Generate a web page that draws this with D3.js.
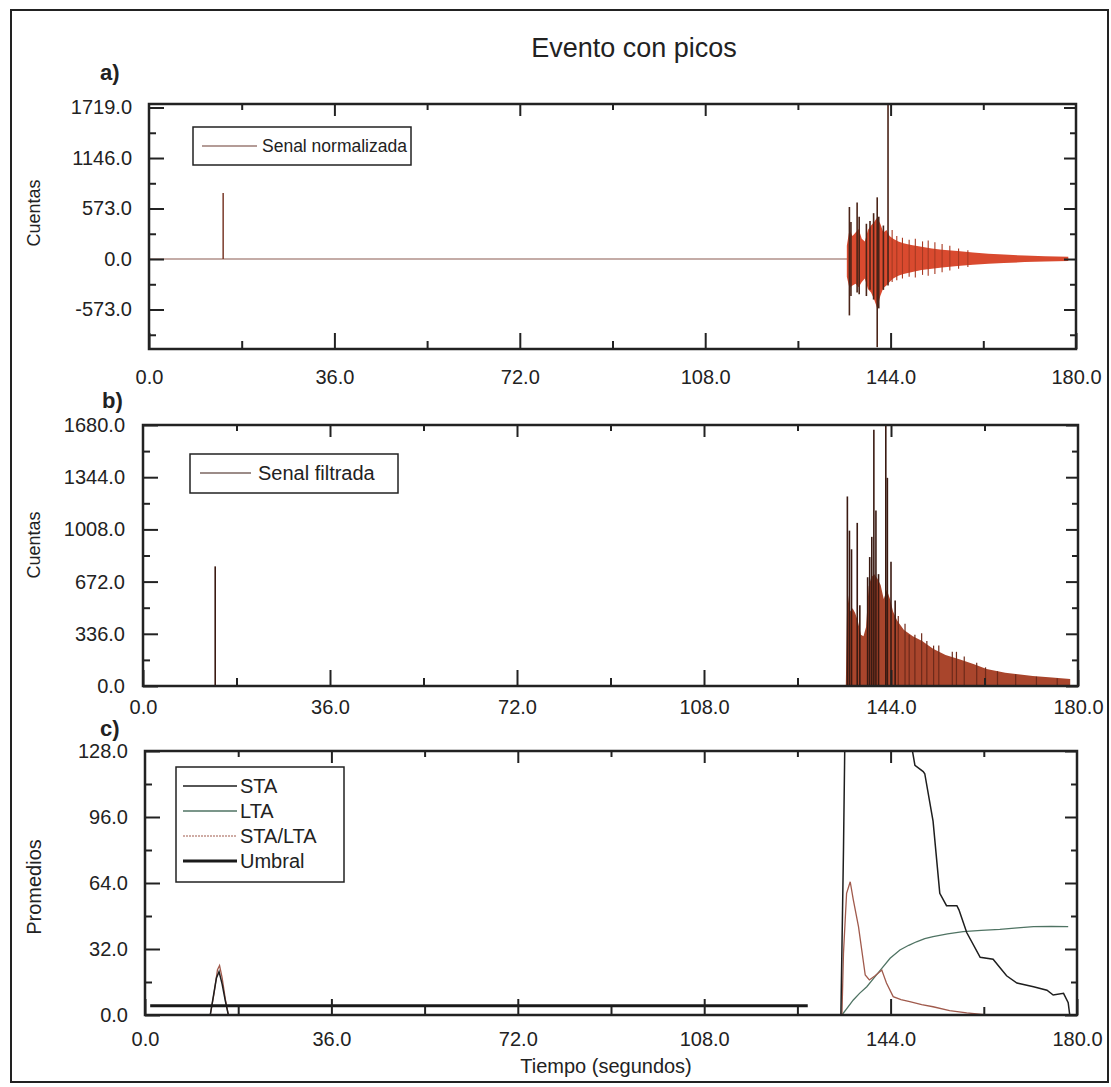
<!DOCTYPE html>
<html><head><meta charset="utf-8">
<script src="https://cdn.jsdelivr.net/npm/d3@7"></script>
<style>
body{margin:0;background:#fff}
svg text{font-family:"Liberation Sans",Arial,Helvetica,sans-serif}
</style>
</head><body><svg id="chart" width="1111" height="1087"></svg>
<script>
// ---------- data ----------
const xMajorTicks = [0, 36, 72, 108, 144, 180];
const xMinorTicks = [18, 54, 90, 126, 162];

const aYMajor = [-573, 0, 573, 1146, 1719];
const aYMinor = [-859.5, -286.5, 286.5, 859.5, 1432.5];
const bYMajor = [0, 336, 672, 1008, 1344, 1680];
const bYMinor = [168, 504, 840, 1176, 1512];
const cYMajor = [0, 32, 64, 96, 128];
const cYMinor = [16, 48, 80, 112];

// panel a: normalized signal
const aPreT = [14.4];
const aPreV = [750];
const aEnvT   = [135.5,136.0,136.6,137.2,137.8,138.4,139.0,139.6,140.2,140.8,141.4,142.0,142.6,143.2,143.8,144.5,145.5,146.5,148,150,152,154,157,160,163,166,170,174,178.5];
const aUpper  = [150,330,260,300,340,230,200,330,380,420,470,400,300,330,260,230,200,180,160,140,120,105,90,75,60,50,40,32,26];
const aLower  = [-200,-330,-300,-280,-320,-260,-220,-340,-380,-460,-560,-420,-330,-300,-260,-220,-190,-170,-150,-125,-110,-95,-80,-65,-55,-45,-35,-28,-22];
const aSpikeT  = [136.0,136.3,137.5,137.9,139.3,140.0,140.7,141.4,141.7,142.6,143.5,144.3,145.2,146.3,147.6,148.8,150.2,151.3,152.6,154.0,155.5,157.2,159.0];
const aSpikeHi = [590,420,640,480,400,430,520,700,480,380,1800,330,260,240,220,230,200,210,190,170,150,120,100];
const aSpikeLo = [-640,-420,-380,-400,-420,-350,-460,-1000,-560,-350,-300,-260,-240,-220,-200,-210,-180,-190,-170,-150,-130,-110,-90];

// panel b: filtered signal
const bEnvT = [135.3,135.6,136.1,136.6,137.1,137.6,138.2,138.7,139.2,139.7,140.2,140.8,141.4,142.0,142.6,143.2,143.8,144.4,145.2,146.5,148.2,150.0,152.1,154.5,157.3,160.0,162.4,166.0,171.3,175.0,178.5];
const bEnvV = [0,620,480,500,470,420,330,320,380,640,700,720,690,650,560,620,560,480,420,360,320,290,240,200,170,140,110,85,65,55,45];
const bSpikeT = [13.9,135.6,136.0,136.4,137.5,138.0,139.5,139.9,140.3,140.7,141.1,141.6,143.0,143.3,144.0,144.8,145.4,146.7,147.5,148.6,149.9,150.9,152.2,153.2,155.8,156.6,158.1,160.5,162.2,164.5,168.0,172.0,176.0];
const bSpikeV = [770,1220,1000,880,1050,520,700,830,960,1650,1130,720,1800,1340,800,550,450,400,330,330,340,290,260,260,220,220,190,150,120,95,75,60,50];

// panel c: averages
const staT = [0,12.6,13.2,13.8,14.3,14.9,15.5,16.1,134.4,134.9,135.2,147.4,148.7,150.3,150.6,152.2,153.5,154.8,156.8,157.2,158.7,161.3,163.8,165.1,166.4,168.4,171.6,174.2,175.4,177.4,178.3,178.6];
const staV = [0,0,9,18,21,15,7,0,0,80,140,140,121,118,117,94,59,53,53,51,40,28,27,23,19,15.5,13.7,12,9.7,10.5,6,0];
const ltaT = [0,134.6,135.5,136.8,138.0,139.4,140.8,142.3,143.9,145.8,147.5,149.0,150.6,152.2,155.0,158.0,161.5,165.1,168.5,171.6,175.0,178.3];
const ltaV = [0,0,3,7.3,10.5,13.7,18,22.6,27.5,31.5,33.8,35.5,37,38,39.3,40.4,41,41.5,42.2,42.8,42.9,42.8];
const ratioT = [0,12.6,13.3,14.0,14.4,14.9,15.5,16.1,134.6,134.9,135.5,136.2,136.8,137.8,139.1,139.9,141.0,142.3,143.2,144.5,146.0,147.7,150.0,152.2,155.4,158.7,162.6,178.6];
const ratioV = [0,0,10,22,24,18,8,0,0,30,59,64.6,55.8,42.8,19.4,17,19,21.8,15.5,8.9,7.5,6.5,5,4,2.1,1,0,0];
const umbralT = [1, 128];
const umbralV = [4.5, 4.5];

const legendC = ["STA", "LTA", "STA/LTA", "Umbral"];

// ---------- drawing ----------
const svg = d3.select("#chart");
svg.append("rect").attr("width",1111).attr("height",1087).attr("fill","#fff");
svg.append("rect").attr("x",11).attr("y",10).attr("width",1097).attr("height",1072)
  .attr("fill","none").attr("stroke","#222").attr("stroke-width",2);

const ink = "#222";
const fmt = d => d.toFixed(1);

function panel(id, box, yDomain, yMaj, yMin, xPad, yPad) {
  const x = d3.scaleLinear().domain([0,180]).range([box.l, box.r]);
  const y = d3.scaleLinear().domain(yDomain).range([box.b, box.t]);
  const g = svg.append("g");
  svg.append("clipPath").attr("id", id).append("rect")
    .attr("x", box.l).attr("y", box.t).attr("width", box.r-box.l).attr("height", box.b-box.t);
  const plot = g.append("g").attr("clip-path", `url(#${id})`);
  const ax = g.append("g").attr("color", ink);
  const style = sel => { sel.select(".domain").remove(); sel.selectAll("line").attr("stroke-width",2); sel.attr("font-size",20).attr("font-family",null); };
  ax.append("g").attr("transform",`translate(0,${box.b})`)
    .call(d3.axisBottom(x).tickValues(xMajorTicks).tickSize(-16).tickPadding(xPad).tickFormat(fmt)).call(style);
  ax.append("g").attr("transform",`translate(0,${box.b})`)
    .call(d3.axisBottom(x).tickValues(xMinorTicks).tickSize(-8).tickFormat("")).call(style);
  ax.append("g").attr("transform",`translate(0,${box.t})`)
    .call(d3.axisTop(x).tickValues(xMajorTicks.slice(1,-1)).tickSize(-12).tickFormat("")).call(style);
  ax.append("g").attr("transform",`translate(0,${box.t})`)
    .call(d3.axisTop(x).tickValues(xMinorTicks).tickSize(-6).tickFormat("")).call(style);
  ax.append("g").attr("transform",`translate(${box.l},0)`)
    .call(d3.axisLeft(y).tickValues(yMaj).tickSize(-15).tickPadding(yPad).tickFormat(fmt)).call(style);
  ax.append("g").attr("transform",`translate(${box.l},0)`)
    .call(d3.axisLeft(y).tickValues(yMin).tickSize(-7).tickFormat("")).call(style);
  ax.append("g").attr("transform",`translate(${box.r},0)`)
    .call(d3.axisRight(y).tickValues(yMaj).tickSize(-12).tickFormat("")).call(style);
  ax.append("g").attr("transform",`translate(${box.r},0)`)
    .call(d3.axisRight(y).tickValues(yMin).tickSize(-6).tickFormat("")).call(style);
  g.append("rect").attr("x",box.l).attr("y",box.t).attr("width",box.r-box.l).attr("height",box.b-box.t)
    .attr("fill","none").attr("stroke",ink).attr("stroke-width",2.5);
  return {x, y, plot, g};
}

// ---- title ----
svg.append("text").attr("x",634).attr("y",57).attr("text-anchor","middle")
  .attr("font-size",27).attr("fill",ink).text("Evento con picos");

// ---- panel a ----
const A = panel("clipA", {l:149, r:1076, t:104, b:349}, [-1021, 1759], aYMajor, aYMinor, 21, 17);
A.plot.append("line").attr("x1",A.x(0)).attr("x2",A.x(178.5)).attr("y1",A.y(0)).attr("y2",A.y(0))
  .attr("stroke","#8a5a50").attr("stroke-width",1.2);
A.plot.selectAll(".pre").data(aPreT).join("line")
  .attr("x1",d=>A.x(d)).attr("x2",d=>A.x(d)).attr("y1",A.y(0)).attr("y2",(d,i)=>A.y(aPreV[i]))
  .attr("stroke","#7a3a2a").attr("stroke-width",1.5);
A.plot.append("path").datum(aEnvT.map((t,i)=>[t,aUpper[i],aLower[i]]))
  .attr("d", d3.area().x(d=>A.x(d[0])).y0(d=>A.y(d[2])).y1(d=>A.y(d[1])))
  .attr("fill","#d94a2f");
A.plot.selectAll(".sp").data(aSpikeT).join("line")
  .attr("x1",d=>A.x(d)).attr("x2",d=>A.x(d))
  .attr("y1",(d,i)=>A.y(aSpikeLo[i])).attr("y2",(d,i)=>A.y(aSpikeHi[i]))
  .attr("stroke",(d,i)=>i<11?"#4a2418":"#a83a22").attr("stroke-width",(d,i)=>i<11?1.6:1.1);
svg.append("text").attr("x",100).attr("y",80).attr("font-size",22).attr("font-weight","bold").attr("fill",ink).text("a)");
svg.append("text").attr("transform","translate(40,213) rotate(-90)").attr("text-anchor","middle")
  .attr("font-size",18).attr("fill",ink).text("Cuentas");
// legend a
svg.append("rect").attr("x",193).attr("y",127).attr("width",218).attr("height",38)
  .attr("fill","#fff").attr("stroke",ink).attr("stroke-width",1.5);
svg.append("line").attr("x1",202).attr("x2",257).attr("y1",146).attr("y2",146).attr("stroke","#6a3a30").attr("stroke-width",1.2);
svg.append("text").attr("x",262).attr("y",152).attr("font-size",17.5).attr("fill",ink).text("Senal normalizada");

// ---- panel b ----
const B = panel("clipB", {l:143, r:1078, t:425, b:686}, [0, 1680], bYMajor, bYMinor, 14, 18);
B.plot.append("line").attr("x1",B.x(0)).attr("x2",B.x(178.5)).attr("y1",B.y(0)).attr("y2",B.y(0))
  .attr("stroke","#6a3a30").attr("stroke-width",1.5);
B.plot.append("path").datum(bEnvT.map((t,i)=>[t,bEnvV[i]]))
  .attr("d", d3.area().x(d=>B.x(d[0])).y0(B.y(0)).y1(d=>B.y(d[1])))
  .attr("fill","#a9452c");
B.plot.selectAll(".sp").data(bSpikeT).join("line")
  .attr("x1",d=>B.x(d)).attr("x2",d=>B.x(d)).attr("y1",B.y(0)).attr("y2",(d,i)=>B.y(bSpikeV[i]))
  .attr("stroke",(d,i)=>i<16?"#3a1a12":"#6e2a1a").attr("stroke-width",(d,i)=>i<16?1.6:1.2);
svg.append("text").attr("x",102).attr("y",408).attr("font-size",22).attr("font-weight","bold").attr("fill",ink).text("b)");
svg.append("text").attr("transform","translate(40,545) rotate(-90)").attr("text-anchor","middle")
  .attr("font-size",18).attr("fill",ink).text("Cuentas");
svg.append("rect").attr("x",190).attr("y",454).attr("width",208).attr("height",39)
  .attr("fill","#fff").attr("stroke",ink).attr("stroke-width",1.5);
svg.append("line").attr("x1",200).attr("x2",251).attr("y1",473).attr("y2",473).attr("stroke","#3a1a12").attr("stroke-width",1.2);
svg.append("text").attr("x",258).attr("y",480).attr("font-size",20).attr("fill",ink).text("Senal filtrada");

// ---- panel c ----
const C = panel("clipC", {l:145, r:1077, t:751, b:1015}, [0, 128], cYMajor, cYMinor, 17, 17);
const lineGen = d3.line().x(d=>C.x(d[0])).y(d=>C.y(d[1]));
const seriesC = [
  {t:ltaT, v:ltaV, color:"#4f7363", w:1.3},
  {t:ratioT, v:ratioV, color:"#a05a4c", w:1.3},
  {t:staT, v:staV, color:"#1e1e1e", w:1.5},
  {t:umbralT, v:umbralV, color:"#1a1a1a", w:3}
];
C.plot.selectAll(".ser").data(seriesC).join("path")
  .attr("d", s => lineGen(s.t.map((t,i)=>[t,s.v[i]])))
  .attr("fill","none").attr("stroke",s=>s.color).attr("stroke-width",s=>s.w);
svg.append("text").attr("x",100).attr("y",736).attr("font-size",22).attr("font-weight","bold").attr("fill",ink).text("c)");
svg.append("text").attr("transform","translate(41,887) rotate(-90)").attr("text-anchor","middle")
  .attr("font-size",20).attr("fill",ink).text("Promedios");
svg.append("text").attr("x",606).attr("y",1073).attr("text-anchor","middle")
  .attr("font-size",20).attr("fill",ink).text("Tiempo (segundos)");
// legend c
svg.append("rect").attr("x",176).attr("y",767).attr("width",168).attr("height",115)
  .attr("fill","#fff").attr("stroke",ink).attr("stroke-width",1.5);
const legColors = ["#1e1e1e","#4f7363","#a05a4c","#1a1a1a"];
const legW = [1.3,1.3,1.2,3];
const legY = [786, 811, 836, 861];
const lg = svg.append("g");
lg.selectAll("line").data(legendC).join("line")
  .attr("x1",183).attr("x2",237).attr("y1",(d,i)=>legY[i]).attr("y2",(d,i)=>legY[i])
  .attr("stroke",(d,i)=>legColors[i]).attr("stroke-width",(d,i)=>legW[i])
  .attr("stroke-dasharray",(d,i)=>i===2?"2,1":null);
lg.selectAll("text").data(legendC).join("text")
  .attr("x",240).attr("y",(d,i)=>legY[i]+7).attr("font-size",20).attr("fill",ink).text(d=>d);
</script>
</body></html>
